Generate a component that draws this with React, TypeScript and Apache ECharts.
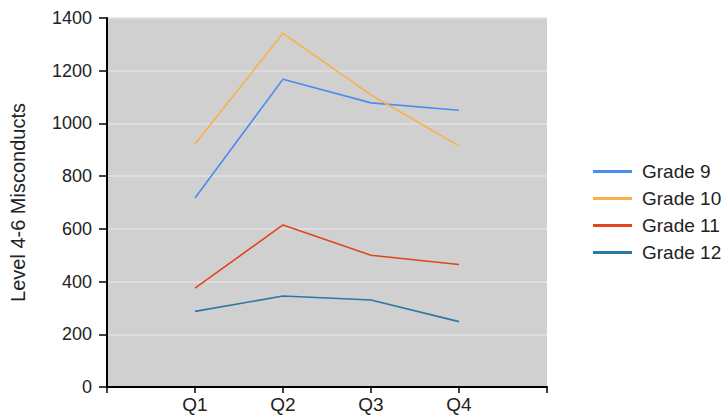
import React, { useEffect, useRef } from "react";
import * as echarts from "echarts";

const categories = ["", "Q1", "Q2", "Q3", "Q4", ""];
const grade9 = [null, 717, 1168, 1078, 1050, null];
const grade10 = [null, 922, 1342, 1108, 915, null];
const grade11 = [null, 375, 615, 500, 465, null];
const grade12 = [null, 287, 345, 330, 248, null];
const seriesNames = ["Grade 9", "Grade 10", "Grade 11", "Grade 12"];
const seriesColors = ["#4a8cf0", "#f9b04a", "#e0451c", "#2b78a5"];
const yTicks = { min: 0, max: 1400, interval: 200 };

export default function App() {
  const ref = useRef<HTMLDivElement>(null);
  useEffect(() => {
    const chart = echarts.init(ref.current!, null, { renderer: "svg" });
    const font = "'Liberation Sans', Arial, sans-serif";
    const data = [grade9, grade10, grade11, grade12];
    chart.setOption({
      animation: false,
      backgroundColor: "#ffffff",
      textStyle: { fontFamily: font },
      grid: {
        left: 104,
        top: 18,
        right: 177,
        bottom: 32,
        show: true,
        backgroundColor: "#d0d0d0",
        borderWidth: 0,
      },
      legend: {
        orient: "vertical",
        left: 588,
        top: 157,
        itemWidth: 39,
        itemHeight: 3,
        itemGap: 8,
        icon: "rect",
        data: seriesNames,
        textStyle: { fontFamily: font, fontSize: 19, color: "#222222", padding: [0, 0, 0, 5] },
      },
      xAxis: {
        type: "category",
        data: categories,
        boundaryGap: false,
        axisLine: { lineStyle: { color: "#000000", width: 2 } },
        axisTick: { show: true, length: 6, lineStyle: { color: "#000000", width: 1.5 } },
        axisLabel: { fontFamily: font, fontSize: 19, color: "#222222", margin: 8 },
        splitLine: { show: false },
      },
      yAxis: {
        type: "value",
        min: yTicks.min,
        max: yTicks.max,
        interval: yTicks.interval,
        name: "Level 4-6 Misconducts",
        nameLocation: "middle",
        nameGap: 79,
        nameRotate: 90,
        nameTextStyle: { fontFamily: font, fontSize: 20, color: "#222222" },
        axisLine: { show: true, lineStyle: { color: "#000000", width: 2 } },
        axisTick: { show: true, length: 8, lineStyle: { color: "#000000", width: 1.5 } },
        axisLabel: {
          fontFamily: font,
          fontSize: 18,
          color: "#222222",
          margin: 15,
          formatter: (v: number) => String(v),
        },
        splitLine: { show: true, lineStyle: { color: "#e2e2e2", width: 1.5 } },
      },
      series: seriesNames.map((name, i) => ({
        name,
        type: "line",
        data: data[i],
        symbol: "none",
        color: seriesColors[i],
        lineStyle: { width: 1.6, color: seriesColors[i] },
      })),
    });
    return () => chart.dispose();
  }, []);
  return <div ref={ref} style={{ width: 724, height: 419, position: "absolute", left: 0, top: 0 }} />;
}
